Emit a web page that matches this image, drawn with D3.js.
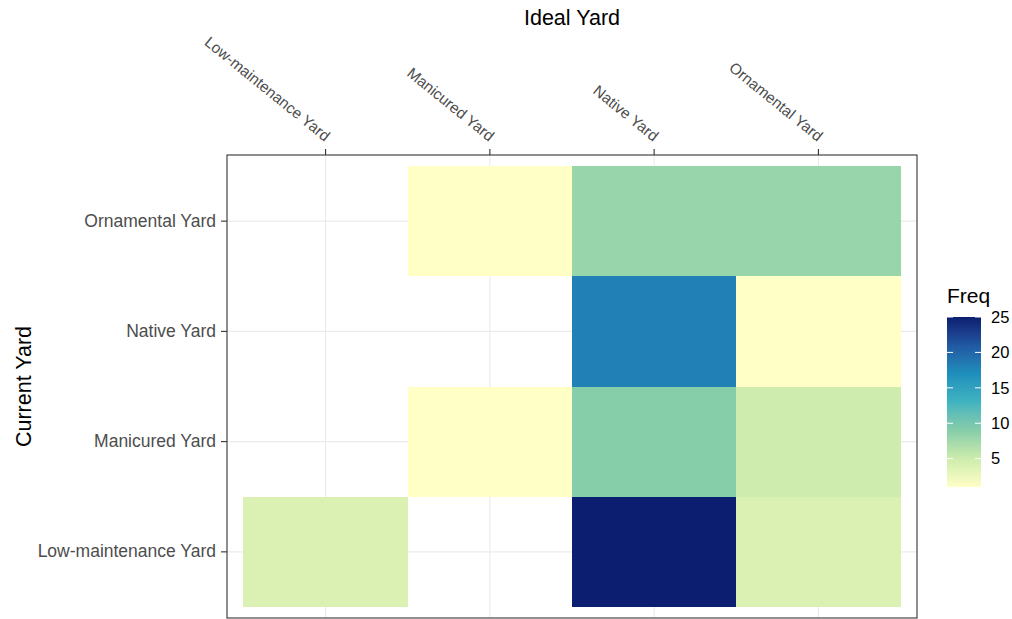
<!DOCTYPE html>
<html>
<head>
<meta charset="utf-8">
<script src="https://cdn.jsdelivr.net/npm/d3@7"></script>
<style>
  html, body { margin: 0; padding: 0; background: #ffffff; }
  svg { display: block; font-family: "Liberation Sans", Arial, sans-serif; }
</style>
</head>
<body>
<svg id="chart" width="1012" height="619"></svg>
<script>
// Yard categories (x = ideal yard, y = current yard)
const idealYards = ["Low-maintenance Yard", "Manicured Yard", "Native Yard", "Ornamental Yard"];
const currentYards = ["Low-maintenance Yard", "Manicured Yard", "Native Yard", "Ornamental Yard"];

// Frequency of each (current, ideal) pair; null = no respondents
const freqLowMaintenance = [4, null, 25, 4];    // current: Low-maintenance Yard
const freqManicured      = [null, 1, 9, 5];     // current: Manicured Yard
const freqNative         = [null, null, 18, 1]; // current: Native Yard
const freqOrnamental     = [null, 1, 8, 8];     // current: Ornamental Yard

const legendTicks = [5, 10, 15, 20, 25];
const freqRange = [1, 25];
// yellow-green-blue sequential ramp, light to dark
const paletteColors = ["#ffffc6", "#cdecad", "#86cdaa", "#3fb4c0", "#1d8fbd", "#2058a2", "#0c1e70"];

const rows = [freqLowMaintenance, freqManicured, freqNative, freqOrnamental];
const cells = [];
rows.forEach((vals, i) => {
  vals.forEach((v, j) => {
    if (v !== null) cells.push({ current: currentYards[i], ideal: idealYards[j], freq: v });
  });
});

const svg = d3.select("#chart");

const panel = { left: 227, right: 917, top: 155, bottom: 618 };

const x = d3.scaleBand().domain(idealYards)
  .range([panel.left, panel.right]).paddingInner(0).paddingOuter(0.1);
const y = d3.scaleBand().domain(currentYards)
  .range([panel.bottom, panel.top]).paddingInner(0).paddingOuter(0.1);

const color = d3.scaleLinear()
  .domain(paletteColors.map((c, i) => freqRange[0] + i * (freqRange[1] - freqRange[0]) / (paletteColors.length - 1)))
  .range(paletteColors)
  .interpolate(d3.interpolateLab)
  .clamp(true);

// panel background
svg.append("rect")
  .attr("x", panel.left).attr("y", panel.top)
  .attr("width", panel.right - panel.left).attr("height", panel.bottom - panel.top)
  .attr("fill", "#ffffff");

// grid lines
const grid = svg.append("g").attr("stroke", "#ebebeb").attr("stroke-width", 1.1);
idealYards.forEach(d => {
  const cx = x(d) + x.bandwidth() / 2;
  grid.append("line").attr("x1", cx).attr("x2", cx).attr("y1", panel.top).attr("y2", panel.bottom);
});
currentYards.forEach(d => {
  const cy = y(d) + y.bandwidth() / 2;
  grid.append("line").attr("x1", panel.left).attr("x2", panel.right).attr("y1", cy).attr("y2", cy);
});

// tiles
svg.append("g").selectAll("rect").data(cells).join("rect")
  .attr("x", d => x(d.ideal))
  .attr("y", d => y(d.current))
  .attr("width", x.bandwidth())
  .attr("height", y.bandwidth())
  .attr("fill", d => color(d.freq))
  .attr("shape-rendering", "crispEdges");

// panel border
svg.append("rect")
  .attr("x", panel.left).attr("y", panel.top)
  .attr("width", panel.right - panel.left).attr("height", panel.bottom - panel.top)
  .attr("fill", "none").attr("stroke", "#333333").attr("stroke-width", 1.1);

// top axis
const xAxis = d3.axisTop(x).tickSize(6).tickPadding(4);
const gx = svg.append("g").attr("transform", `translate(0,${panel.top})`).call(xAxis);
gx.select(".domain").remove();
gx.selectAll(".tick line").attr("stroke", "#333333").attr("stroke-width", 1.1);
gx.selectAll(".tick text")
  .attr("fill", "#4d4d4d")
  .attr("font-size", 15.3)
  .attr("text-anchor", "end")
  .attr("x", 0).attr("y", 0).attr("dy", 0)
  .attr("transform", "translate(-1,-13) rotate(39)");

// left axis
const yAxis = d3.axisLeft(y).tickSize(6).tickPadding(5);
const gy = svg.append("g").attr("transform", `translate(${panel.left},0)`).call(yAxis);
gy.select(".domain").remove();
gy.selectAll(".tick line").attr("stroke", "#333333").attr("stroke-width", 1.1);
gy.selectAll(".tick text").attr("fill", "#4d4d4d").attr("font-size", 17.5);

// axis titles
svg.append("text")
  .attr("x", (panel.left + panel.right) / 2).attr("y", 25)
  .attr("text-anchor", "middle").attr("font-size", 21.5).attr("fill", "#000")
  .text("Ideal Yard");
svg.append("text")
  .attr("transform", `translate(31,${(panel.top + panel.bottom) / 2}) rotate(-90)`)
  .attr("text-anchor", "middle").attr("font-size", 21.5).attr("fill", "#000")
  .text("Current Yard");

// colour bar legend
const bar = { x: 947, w: 34, top: 317, bottom: 487 };
const ly = d3.scaleLinear().domain(freqRange).range([bar.bottom, bar.top]);

const defs = svg.append("defs");
const grad = defs.append("linearGradient").attr("id", "freqGradient")
  .attr("x1", 0).attr("y1", 1).attr("x2", 0).attr("y2", 0);
d3.range(0, 1.0001, 0.02).forEach(t => {
  grad.append("stop").attr("offset", t)
    .attr("stop-color", color(freqRange[0] + t * (freqRange[1] - freqRange[0])));
});

svg.append("text")
  .attr("x", bar.x).attr("y", 303)
  .attr("font-size", 21).attr("fill", "#000")
  .text("Freq");

svg.append("rect")
  .attr("x", bar.x).attr("y", bar.top)
  .attr("width", bar.w).attr("height", bar.bottom - bar.top)
  .attr("fill", "url(#freqGradient)");

const lt = svg.append("g");
legendTicks.forEach(v => {
  const ty = ly(v);
  lt.append("line").attr("x1", bar.x).attr("x2", bar.x + 6).attr("y1", ty).attr("y2", ty)
    .attr("stroke", "#ffffff").attr("stroke-width", 1);
  lt.append("line").attr("x1", bar.x + bar.w - 6).attr("x2", bar.x + bar.w).attr("y1", ty).attr("y2", ty)
    .attr("stroke", "#ffffff").attr("stroke-width", 1);
  lt.append("text").attr("x", bar.x + bar.w + 10).attr("y", ty).attr("dy", "0.35em")
    .attr("font-size", 16.5).attr("fill", "#000").text(v);
});
</script>
</body>
</html>
